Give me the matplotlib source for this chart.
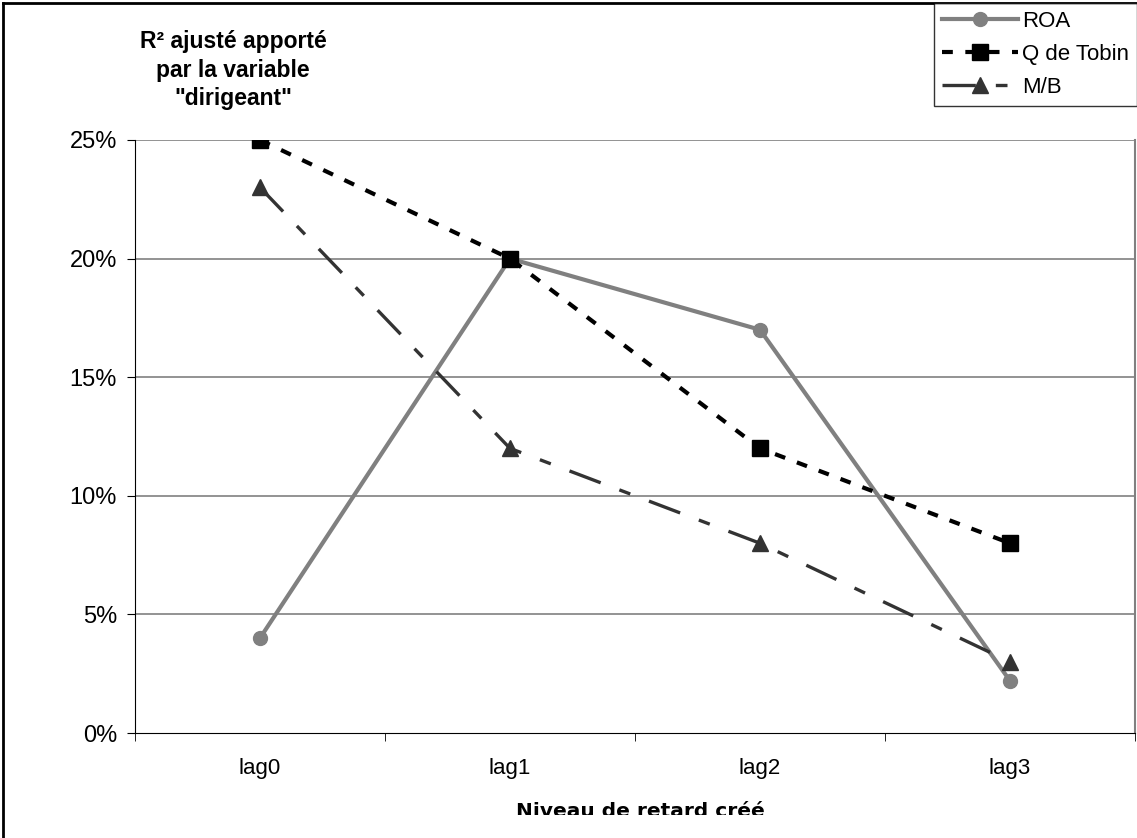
import matplotlib.pyplot as plt
from matplotlib.patches import Rectangle
from matplotlib.lines import Line2D
from matplotlib.ticker import FuncFormatter

# donnees
lags = ["lag0", "lag1", "lag2", "lag3"]
roa = [4, 20, 17, 2.2]
tobin = [25, 20, 12, 8]
mb = [23, 12, 8, 3]

plt.rcParams['font.family'] = ['Liberation Sans', 'DejaVu Sans']

fig = plt.figure(figsize=(11.37, 8.38), dpi=100)
ax = fig.add_axes([135/1137, 1-733/838, 1000/1137, 593/838])

x = range(len(lags))
ax.plot(x, roa, color="#808080", lw=3, marker="o", ms=10, label="ROA", zorder=3)
ax.plot(x, tobin, color="#000000", lw=3, marker="s", ms=11, label="Q de Tobin",
        dashes=(2.6, 3.0), zorder=4)
ax.plot(x, mb, color="#333333", lw=2.4, marker="^", ms=11, label="M/B",
        dashes=(10, 6, 3.5, 6), zorder=3)

ax.set_xlim(-0.5, 3.5)
ax.set_ylim(0, 25)
ax.set_yticks([0, 5, 10, 15, 20, 25])
ax.yaxis.set_major_formatter(FuncFormatter(lambda v, p: "%d%%" % v))
for v in [5, 10, 15, 20, 25]:
    ax.axhline(v, color="#808080", lw=1.2, zorder=1)

ax.set_xticks(list(x))
ax.set_xticklabels(lags)
ax.set_xticks([-0.5, 0.5, 1.5, 2.5, 3.5], minor=True)
ax.tick_params(axis="x", which="major", length=0, pad=18, labelsize=16)
ax.tick_params(axis="x", which="minor", length=6, direction="out")
ax.tick_params(axis="y", length=6, pad=7, labelsize=17)

ax.spines["top"].set_visible(False)
ax.spines["right"].set_color("#808080")
ax.spines["right"].set_linewidth(1.5)

fig.text(233/1137, 1-70/838, "R² ajusté apporté\npar la variable\n\"dirigeant\"",
         ha="center", va="center", fontsize=16.5, fontweight="bold", linespacing=1.3)
xl = fig.text(640/1137, 1-802/838, "Niveau de retard créé", ha="center", va="top",
              fontsize=14.5, fontweight="bold", family=["DejaVu Sans"])
# le titre de l'axe est coupe en bas dans l'original
xl.set_clip_path(Rectangle((0, 1-815/838), 1, 1, transform=fig.transFigure))

leg = fig.legend(loc="upper right", bbox_to_anchor=(1137/1137, 1-3/838),
                 fontsize=16, frameon=True, fancybox=False, handlelength=3.4,
                 borderaxespad=0, borderpad=0.35, handletextpad=0.2, labelspacing=0.55)
leg.get_frame().set_edgecolor("black")
leg.get_frame().set_linewidth(1)

# bord du graphique (seulement haut et gauche visibles)
fig.add_artist(Line2D([3/1137, 3/1137], [0, 1-3/838], transform=fig.transFigure,
                      color="black", lw=2))
fig.add_artist(Line2D([3/1137, 1], [1-3/838, 1-3/838], transform=fig.transFigure,
                      color="black", lw=2))

fig.savefig("out.png", dpi=100)
